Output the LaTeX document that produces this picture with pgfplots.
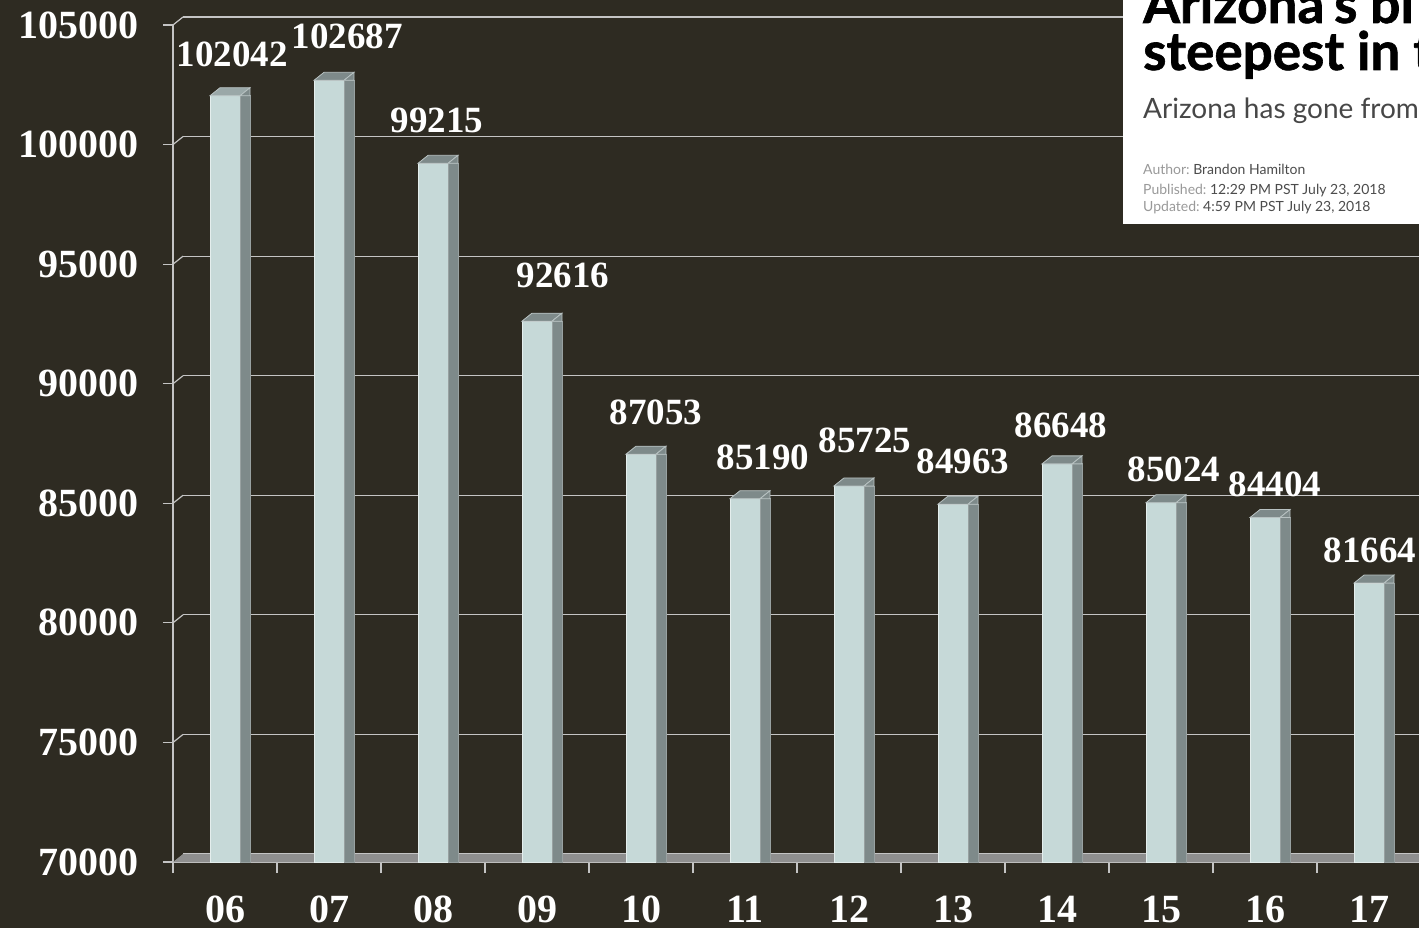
\documentclass[border=0pt]{standalone}
\usepackage{pgfplots}
\pgfplotsset{compat=1.18}
\usepackage{pgfplotstable}
\usepackage{fontspec}
\setmainfont{Liberation Serif}
\newfontfamily\lato{Lato}
\newfontfamily\latoheavy{Lato}[FakeBold=1.2]
\definecolor{bgcol}{HTML}{2E2B22}
\definecolor{frontcol}{HTML}{C6D9D8}
\definecolor{sidecol}{HTML}{7E8A8A}
\definecolor{topcol}{HTML}{9AA8A8}
\definecolor{floorcol}{HTML}{8F8F8F}
\definecolor{gridcol}{HTML}{C4C4C4}
\definecolor{edgecol}{HTML}{E4EEED}

\pgfdeclareplotmark{topface}{%
  \pgfpathmoveto{\pgfqpoint{-15pt}{0pt}}%
  \pgfpathlineto{\pgfqpoint{-5pt}{8pt}}%
  \pgfpathlineto{\pgfqpoint{25pt}{8pt}}%
  \pgfpathlineto{\pgfqpoint{15pt}{0pt}}%
  \pgfpathclose
  \pgfusepath{fill,stroke}%
  \pgfsetfillcolor{sidecol}%
  \pgfpathmoveto{\pgfqpoint{15pt}{0pt}}%
  \pgfpathlineto{\pgfqpoint{25pt}{8pt}}%
  \pgfpathlineto{\pgfqpoint{25pt}{0pt}}%
  \pgfpathclose
  \pgfusepath{fill,stroke}%
}

\pgfplotstableread{
x y dx dy
0.5 102042 7 41
1.5 102687 18 44
2.5 99215 4 43
3.5 92616 26 46
4.5 87053 15 42
5.5 85190 18 41
6.5 85725 16 46
7.5 84963 10 43
8.5 86648 4 39
9.5 85024 13 33
10.5 84404 10 33
11.5 81664 1 33
}\datatable

\begin{document}
\begin{tikzpicture}
\fill[bgcol] (0,0) rectangle (1419pt,-928pt);
\begin{axis}[
  at={(173pt,-862pt)}, anchor=south west,
  scale only axis, width=1248pt, height=837pt,
  xmin=0, xmax=12, ymin=70000, ymax=105000,
  clip mode=individual,
  axis lines*=left,
  axis line style={-, draw=gridcol, line width=1.2pt},
  xtick={0.5,1.5,2.5,3.5,4.5,5.5,6.5,7.5,8.5,9.5,10.5,11.5},
  xticklabels={06,07,08,09,10,11,12,13,14,15,16,17},
  minor xtick={0,1,2,3,4,5,6,7,8,9,10,11,12},
  ytick={70000,75000,80000,85000,90000,95000,100000,105000},
  yticklabels={70000,75000,80000,85000,90000,95000,100000,105000},
  tick align=outside,
  major tick length=10pt, minor tick length=11pt,
  major x tick style={draw=none},
  minor x tick style={draw=gridcol, line width=1.2pt},
  major y tick style={draw=gridcol, line width=1.2pt},
  ymajorgrids,
  major grid style={draw=gridcol, line width=1.2pt, xshift=10pt, yshift=8pt},
  xticklabel style={font=\bfseries\fontsize{40}{40}\selectfont, text=white, anchor=north, inner sep=0pt, yshift=-24pt},
  yticklabel style={font=\bfseries\fontsize{40}{40}\selectfont, text=white, anchor=east, inner sep=0pt, xshift=-24pt},
]
\fill[floorcol] (axis cs:0,70000) -- ++(10pt,8pt) -- ([shift={(10pt,8pt)}]axis cs:12,70000) -- (axis cs:12,70000) -- cycle;
\pgfplotsinvokeforeach{75000,80000,85000,90000,95000,100000,105000}{
  \draw[gridcol, line width=1.2pt] (axis cs:0,#1) -- ++(10pt,8pt);
}
\addplot[ybar, bar width=30pt, bar shift=0pt, fill=frontcol, draw=edgecol, line width=1pt] table[x=x,y=y] {\datatable};
\addplot[ybar, bar width=10pt, bar shift=20pt, fill=sidecol, draw=sidecol!80!white, line width=0.8pt] table[x=x,y=y] {\datatable};
\addplot[only marks, mark=topface, mark options={fill=topcol, draw=topcol!70!white, line width=0.8pt},
  point meta=explicit symbolic,
  visualization depends on={\thisrow{dx} \as \dx},
  visualization depends on={\thisrow{dy} \as \dy},
  nodes near coords={\pgfplotspointmeta},
  every node near coord/.append style={anchor=center, inner sep=0pt, xshift=\dx*1pt, yshift=\dy*1pt, font=\bfseries\fontsize{37}{37}\selectfont, text=white},
] table[x=x,y=y,meta=y] {\datatable};
\end{axis}
\fill[white] (1123pt,0pt) rectangle (1419pt,-224pt);
\begin{scope}
\clip (1123pt,0pt) rectangle (1419pt,-224pt);
\node[anchor=base west, inner sep=0pt, text=black] at (1143pt,-23pt) {\latoheavy\bfseries\fontsize{53}{53}\selectfont Arizona’s bi};
\node[anchor=base west, inner sep=0pt, text=black] at (1143pt,-70pt) {\latoheavy\bfseries\fontsize{53}{53}\selectfont steepest in t};
\node[anchor=base west, inner sep=0pt, text=black!72] at (1143pt,-119pt) {\lato\fontsize{28}{28}\selectfont Arizona has gone from};
\node[anchor=base west, inner sep=0pt] at (1143pt,-175pt) {\lato\fontsize{14}{14}\selectfont\textcolor{black!40}{Author:}\ \textcolor{black!70}{Brandon Hamilton}};
\node[anchor=base west, inner sep=0pt] at (1143pt,-195pt) {\lato\fontsize{14}{14}\selectfont\textcolor{black!40}{Published:}\ \textcolor{black!70}{12:29 PM PST July 23, 2018}};
\node[anchor=base west, inner sep=0pt] at (1143pt,-212pt) {\lato\fontsize{14}{14}\selectfont\textcolor{black!40}{Updated:}\ \textcolor{black!70}{4:59 PM PST July 23, 2018}};
\end{scope}
\pgfresetboundingbox
\path[use as bounding box] (0,0) rectangle (1419pt,-928pt);
\end{tikzpicture}
\end{document}
